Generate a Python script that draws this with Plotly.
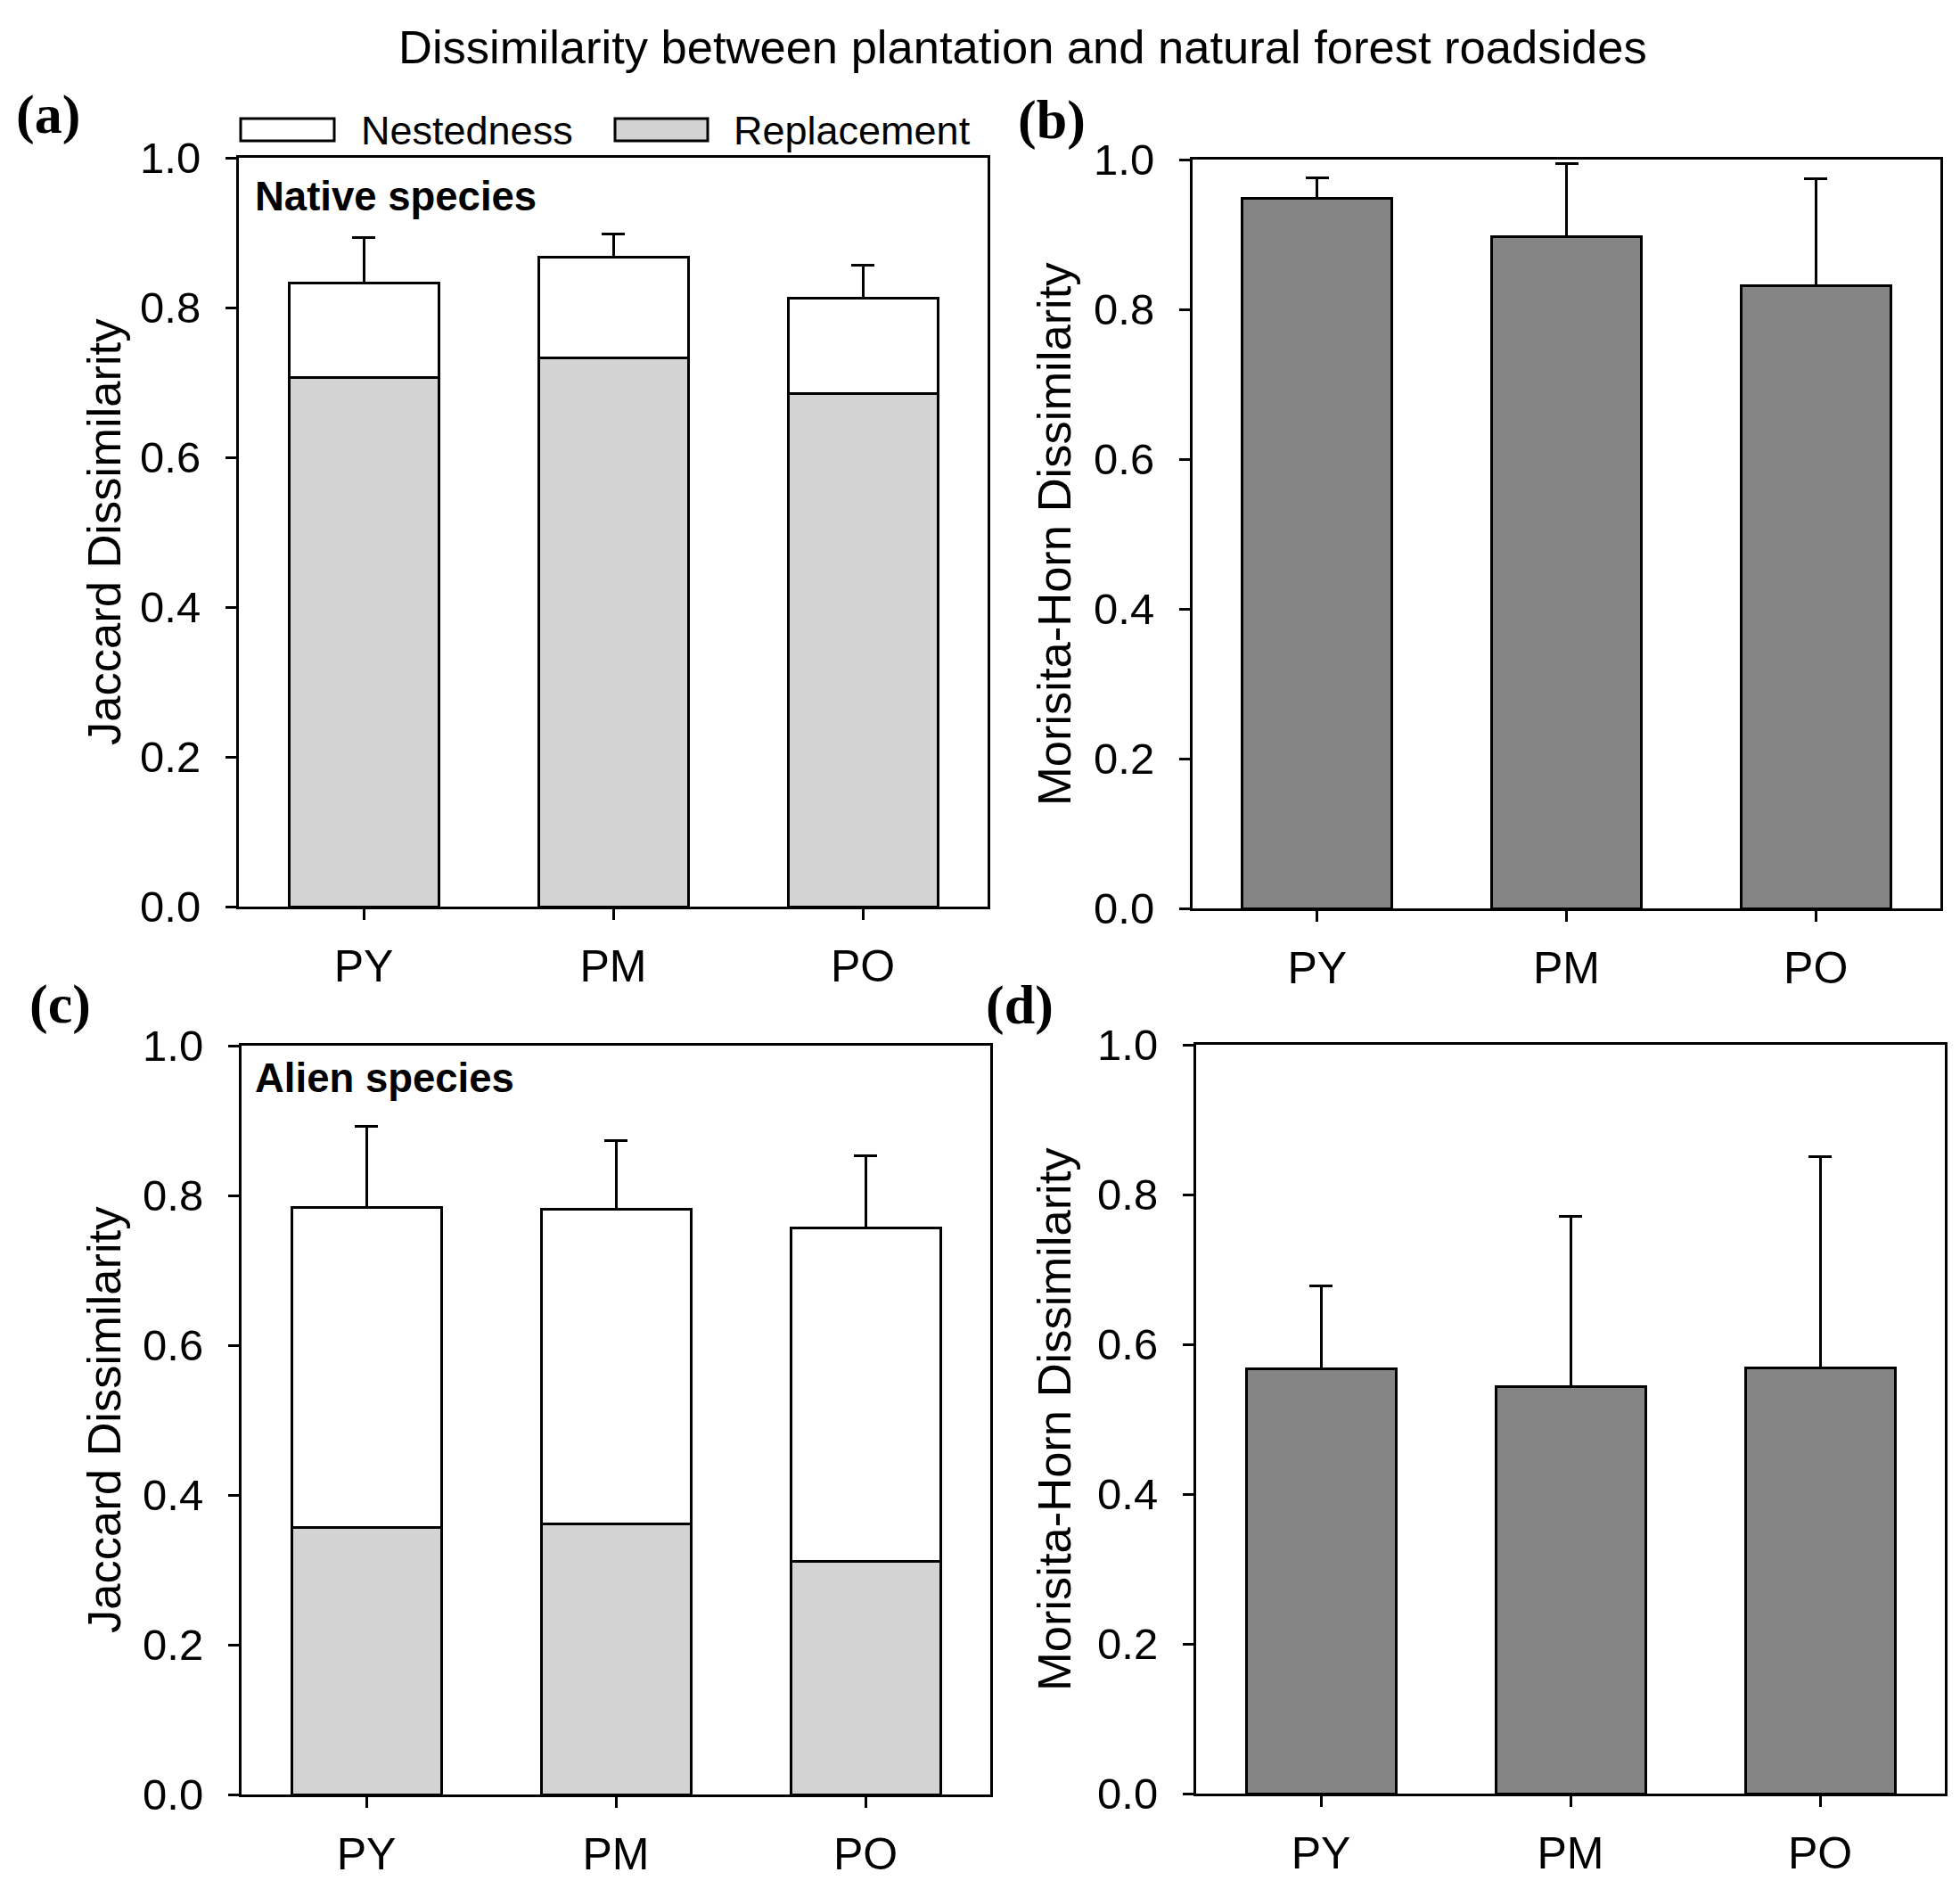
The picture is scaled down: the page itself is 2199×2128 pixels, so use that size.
import plotly.graph_objects as go

# ---------------- data ----------------
categories = ["PY", "PM", "PO"]

native_replacement = [0.706, 0.733, 0.685]
native_nestedness = [0.127, 0.134, 0.127]
native_jaccard_err = [0.060, 0.031, 0.045]

native_morisita = [0.948, 0.897, 0.832]
native_morisita_err = [0.028, 0.098, 0.143]

alien_replacement = [0.356, 0.361, 0.311]
alien_nestedness = [0.428, 0.420, 0.446]
alien_jaccard_err = [0.108, 0.092, 0.096]

alien_morisita = [0.567, 0.544, 0.569]
alien_morisita_err = [0.111, 0.227, 0.282]

y_ticks = [0.0, 0.2, 0.4, 0.6, 0.8, 1.0]

# ---------------- style ----------------
W, H = 2199, 2128
FONT = "Liberation Sans, Arial, sans-serif"
SERIF = "Liberation Serif, Times New Roman, serif"
LIGHT = "#D3D3D3"
DARK = "#848484"
LW = 3


def px_x(v):
    return v / W


def px_y(v):
    return 1 - v / H


# panel boxes in pixels (left, right, top, bottom)
boxes = {
    "a": (268, 1108, 177, 1017),
    "b": (1338, 2177, 179, 1019),
    "c": (271, 1111, 1173, 2013),
    "d": (1342, 2182, 1172, 2012),
}

fig = go.Figure()

err_style = dict(type="data", symmetric=False, thickness=3, width=13, color="black")


def err(vals):
    return dict(err_style, array=vals, arrayminus=[0] * len(vals))


bar_line = dict(color="black", width=LW)

# (a) native jaccard stacked
fig.add_trace(go.Bar(x=categories, y=native_replacement, width=0.6, marker=dict(color=LIGHT, line=bar_line),
                     name="Replacement", xaxis="x", yaxis="y", showlegend=False))
fig.add_trace(go.Bar(x=categories, y=native_nestedness, width=0.6, marker=dict(color="white", line=bar_line),
                     error_y=err(native_jaccard_err), name="Nestedness", xaxis="x", yaxis="y", showlegend=False))
# (b) native morisita
fig.add_trace(go.Bar(x=categories, y=native_morisita, width=0.6, marker=dict(color=DARK, line=bar_line),
                     error_y=err(native_morisita_err), xaxis="x2", yaxis="y2", showlegend=False))
# (c) alien jaccard stacked
fig.add_trace(go.Bar(x=categories, y=alien_replacement, width=0.6, marker=dict(color=LIGHT, line=bar_line),
                     xaxis="x3", yaxis="y3", showlegend=False))
fig.add_trace(go.Bar(x=categories, y=alien_nestedness, width=0.6, marker=dict(color="white", line=bar_line),
                     error_y=err(alien_jaccard_err), xaxis="x3", yaxis="y3", showlegend=False))
# (d) alien morisita
fig.add_trace(go.Bar(x=categories, y=alien_morisita, width=0.6, marker=dict(color=DARK, line=bar_line),
                     error_y=err(alien_morisita_err), xaxis="x4", yaxis="y4", showlegend=False))

layout = dict(
    width=W, height=H, margin=dict(l=0, r=0, t=0, b=0, autoexpand=False),
    paper_bgcolor="white", plot_bgcolor="white",
    barmode="stack", showlegend=False,
    font=dict(family=FONT, color="black", size=50),
)

names = ["a", "b", "c", "d"]
for i, key in enumerate(names):
    l, r, t, b = boxes[key]
    sx = "" if i == 0 else str(i + 1)
    layout["xaxis" + sx] = dict(
        domain=[px_x(l), px_x(r)], anchor="y" + sx, type="category", automargin=False,
        range=[-0.5, 2.5], showline=True, linewidth=LW, linecolor="black", mirror=True,
        ticks="outside", ticklen=12, tickwidth=2.5, tickcolor="black",
        tickfont=dict(family=FONT, size=50, color="black"), ticklabelstandoff=9,
        showgrid=False, zeroline=False, fixedrange=True,
    )
    layout["yaxis" + sx] = dict(
        domain=[px_y(b), px_y(t)], anchor="x" + sx, automargin=False,
        range=[0, 1], tickvals=y_ticks, ticktext=[f"{v:.1f}" for v in y_ticks],
        showline=True, linewidth=LW, linecolor="black", mirror=True,
        ticks="outside", ticklen=12, tickwidth=3, tickcolor="black",
        tickfont=dict(family=FONT, size=49, color="black"), ticklabelstandoff=18,
        showgrid=False, zeroline=False, fixedrange=True,
    )
fig.update_layout(**layout)

ann = []
# main title
ann.append(dict(text="Dissimilarity between plantation and natural forest roadsides", x=px_x(1147), y=px_y(53),
                xref="paper", yref="paper", xanchor="center", yanchor="middle", showarrow=False,
                font=dict(family=FONT, size=52.5, color="black")))
# panel letters
for txt, cx, cy in [("(a)", 54, 128), ("(b)", 1180, 135), ("(c)", 67, 1126), ("(d)", 1144, 1127)]:
    ann.append(dict(text="<b>" + txt + "</b>", x=px_x(cx), y=px_y(cy), xref="paper", yref="paper",
                    xanchor="center", yanchor="middle", showarrow=False,
                    font=dict(family=SERIF, size=62, color="black")))
# y-axis titles
for txt, cx, cy in [("Jaccard Dissimilarity", 116, 597), ("Morisita-Horn Dissimilarity", 1182, 599),
                    ("Jaccard Dissimilarity", 116, 1593), ("Morisita-Horn Dissimilarity", 1182, 1592)]:
    ann.append(dict(text=txt, x=px_x(cx), y=px_y(cy), xref="paper", yref="paper", textangle=-90,
                    xanchor="center", yanchor="middle", showarrow=False,
                    font=dict(family=FONT, size=52.5, color="black")))
# in-panel labels
for txt, lx, cy in [("Native species", 284, 220), ("Alien species", 284, 1209)]:
    ann.append(dict(text="<b>" + txt + "</b>", x=px_x(lx), y=px_y(cy), xref="paper", yref="paper",
                    xanchor="left", yanchor="middle", showarrow=False,
                    font=dict(family=FONT, size=45.5, color="black")))
# legend texts
for txt, lx in [("Nestedness", 403), ("Replacement", 821)]:
    ann.append(dict(text=txt, x=px_x(lx), y=px_y(146), xref="paper", yref="paper",
                    xanchor="left", yanchor="middle", showarrow=False,
                    font=dict(family=FONT, size=45, color="black")))
fig.update_layout(annotations=ann)

# legend keys
shapes = []
for x0, x1, col in [(270, 375, "white"), (690, 794, LIGHT)]:
    shapes.append(dict(type="rect", xref="paper", yref="paper", x0=px_x(x0), x1=px_x(x1),
                       y0=px_y(158), y1=px_y(133), fillcolor=col, line=dict(color="black", width=3)))
fig.update_layout(shapes=shapes)

fig.write_html("out.html")
